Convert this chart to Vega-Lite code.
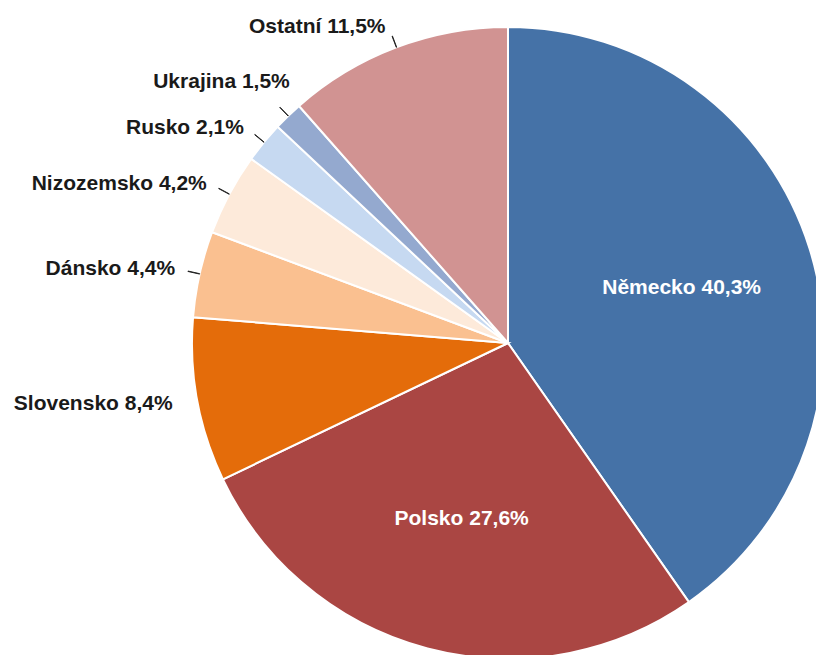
{
  "$schema": "https://vega.github.io/schema/vega-lite/v6.json",
  "autosize": "none",
  "width": 632,
  "height": 632,
  "padding": {"left": 192, "top": 27, "right": 0, "bottom": 0},
  "background": "white",
  "view": {"stroke": null},
  "config": {"font": "Liberation Sans"},
  "data": {"values": [
    {"country": "Německo", "value": 40.3, "label": "Německo 40,3%", "order": 1},
    {"country": "Polsko", "value": 27.6, "label": "Polsko 27,6%", "order": 2},
    {"country": "Slovensko", "value": 8.4, "label": "Slovensko 8,4%", "order": 3},
    {"country": "Dánsko", "value": 4.4, "label": "Dánsko 4,4%", "order": 4},
    {"country": "Nizozemsko", "value": 4.2, "label": "Nizozemsko 4,2%", "order": 5},
    {"country": "Rusko", "value": 2.1, "label": "Rusko 2,1%", "order": 6},
    {"country": "Ukrajina", "value": 1.5, "label": "Ukrajina 1,5%", "order": 7},
    {"country": "Ostatní", "value": 11.5, "label": "Ostatní 11,5%", "order": 8}
  ]},
  "transform": [
    {"stack": "value", "groupby": [], "sort": [{"field": "order", "order": "ascending"}], "as": ["v0", "v1"]},
    {"calculate": "(datum.v0 + datum.v1) / 2", "as": "mid"},
    {"calculate": "datum.mid + 0.02", "as": "mid2"}
  ],
  "layer": [
    {
      "mark": {"type": "arc", "radius": 316, "stroke": "white", "strokeWidth": 2},
      "encoding": {
        "theta": {"field": "v0", "type": "quantitative", "scale": {"domain": [0, 100]}},
        "theta2": {"field": "v1"},
        "color": {
          "field": "country", "type": "nominal", "legend": null,
          "scale": {
            "domain": ["Německo", "Polsko", "Slovensko", "Dánsko", "Nizozemsko", "Rusko", "Ukrajina", "Ostatní"],
            "range": ["#4572A7", "#AA4643", "#E46C0A", "#FAC090", "#FDEADA", "#C6D9F1", "#94A9CF", "#D19392"]
          }
        }
      }
    },
    {
      "transform": [{"filter": {"field": "country", "oneOf": ["Dánsko", "Nizozemsko", "Rusko", "Ukrajina", "Ostatní"]}}],
      "mark": {"type": "arc", "radius": 328, "radius2": 316, "fill": "transparent", "stroke": "#222222", "strokeWidth": 1},
      "encoding": {
        "theta": {"field": "mid", "type": "quantitative", "scale": {"domain": [0, 100]}},
        "theta2": {"field": "mid2"}
      }
    },
    {
      "transform": [{"filter": {"field": "country", "oneOf": ["Německo", "Polsko"]}}],
      "mark": {"type": "text", "radius": 182, "fontSize": 21, "fontWeight": "bold", "fill": "white", "align": "center", "baseline": "middle"},
      "encoding": {
        "theta": {"field": "mid", "type": "quantitative", "scale": {"domain": [0, 100]}},
        "text": {"field": "label"}
      }
    },
    {
      "transform": [{"filter": {"field": "country", "oneOf": ["Slovensko", "Dánsko", "Nizozemsko", "Rusko", "Ostatní"]}}],
      "mark": {"type": "text", "radius": 338, "dx": -3, "fontSize": 21, "fontWeight": "bold", "fill": "#1a1a1a", "align": "right", "baseline": "middle"},
      "encoding": {
        "theta": {"field": "mid", "type": "quantitative", "scale": {"domain": [0, 100]}},
        "text": {"field": "label"}
      }
    },
    {
      "transform": [{"filter": {"field": "country", "equal": "Ukrajina"}}],
      "mark": {"type": "text", "radius": 338, "dx": 17, "dy": -18, "fontSize": 21, "fontWeight": "bold", "fill": "#1a1a1a", "align": "right", "baseline": "middle"},
      "encoding": {
        "theta": {"field": "mid", "type": "quantitative", "scale": {"domain": [0, 100]}},
        "text": {"field": "label"}
      }
    }
  ]
}
